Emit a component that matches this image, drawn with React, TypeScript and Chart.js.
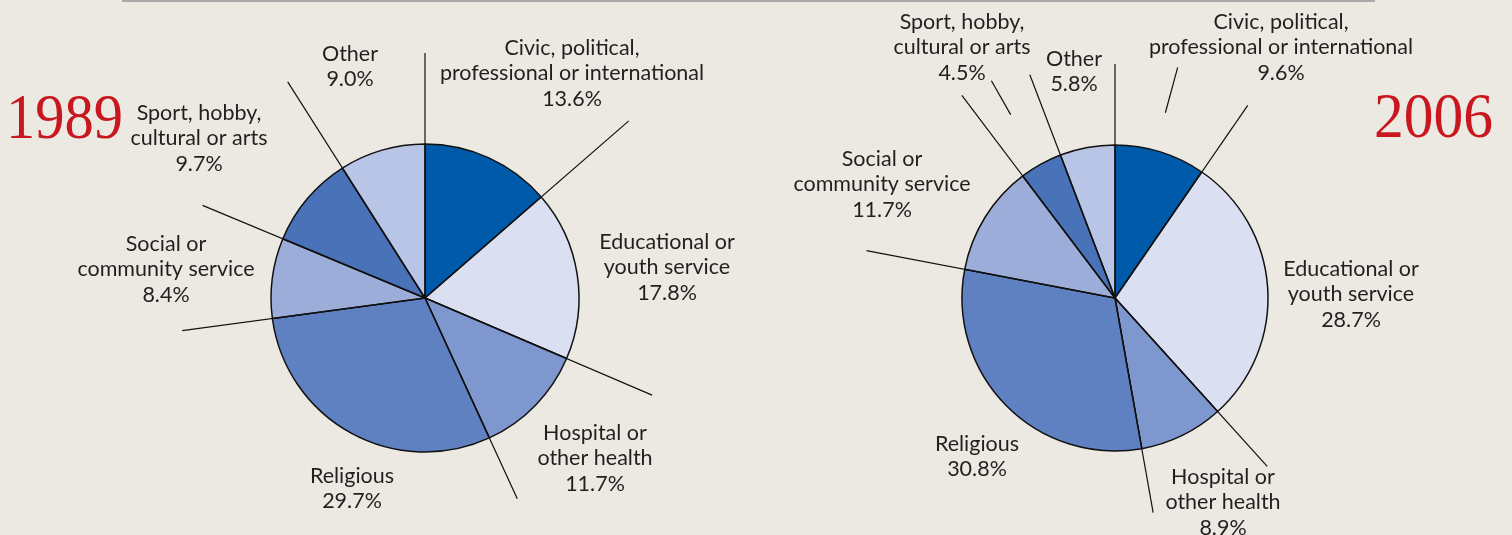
import React, { useEffect, useRef } from "react";
import { Chart, registerables } from "chart.js";

Chart.register(...registerables);

// ---- data ----
const categoryLines: string[][] = [
  ["Civic, political,", "professional or international"],
  ["Educational or", "youth service"],
  ["Hospital or", "other health"],
  ["Religious"],
  ["Social or", "community service"],
  ["Sport, hobby,", "cultural or arts"],
  ["Other"],
];
const values1989 = [13.6, 17.8, 11.7, 29.7, 8.4, 9.7, 9.0];
const values2006 = [9.6, 28.7, 8.9, 30.8, 11.7, 4.5, 5.8];
const years = ["1989", "2006"];

// ---- styles / layout ----
const sliceColors = ["#005aaa", "#dadff2", "#7f97cf", "#5f81c1", "#9cadda", "#4972b8", "#b9c5e6"];
const BG = "#ece9e2";
const TEXT = "#231f20";
const RED = "#c8171f";
const FONT = "Lato, 'Noto Sans', sans-serif";

type PieLayout = {
  padding: { left: number; right: number; top: number; bottom: number };
  radius: number;
  leaderLengths: number[];
  labelPos: { x: number; y: number }[];
  pointers: { arc: number; frac: number; r0: number; r1: number }[];
  year: { x: number; y: number; w: number };
};

const layout1989: PieLayout = {
  padding: { left: 0, right: 662, top: 61, bottom: 0 },
  radius: 154,
  leaderLengths: [245, 270, 247, 221, 245, 241, 256],
  labelPos: [
    { x: 572, y: 48 },
    { x: 667, y: 242 },
    { x: 595, y: 433 },
    { x: 352, y: 476 },
    { x: 166, y: 244 },
    { x: 199, y: 113 },
    { x: 350, y: 54 },
  ],
  pointers: [],
  year: { x: 6, y: 138, w: 117 },
};

const layout2006: PieLayout = {
  padding: { left: 718, right: 0, top: 61, bottom: 0 },
  radius: 153,
  leaderLengths: [234, 234, 227, 218, 253, 254, 239],
  labelPos: [
    { x: 1281, y: 22 },
    { x: 1351, y: 269 },
    { x: 1223, y: 477 },
    { x: 977, y: 444 },
    { x: 882, y: 159 },
    { x: 962, y: 22 },
    { x: 1074, y: 59 },
  ],
  pointers: [
    { arc: 0, frac: 0.44, r0: 192, r1: 239 },
    { arc: 5, frac: 0.46, r0: 211, r1: 250 },
  ],
  year: { x: 1374, y: 137, w: 119 },
};

const LINE_GAP = 25.5;

function makePlugin(values: number[], lay: PieLayout, year: string) {
  return {
    id: "pieDecor" + year,
    afterDatasetsDraw(chart: any) {
      const ctx: CanvasRenderingContext2D = chart.ctx;
      const arcs = chart.getDatasetMeta(0).data;
      ctx.save();
      // leader lines along slice boundaries
      ctx.strokeStyle = "#111";
      ctx.lineWidth = 1.2;
      arcs.forEach((arc: any, i: number) => {
        const a = arc.startAngle;
        const L = lay.leaderLengths[i];
        ctx.beginPath();
        ctx.moveTo(arc.x, arc.y);
        ctx.lineTo(arc.x + L * Math.cos(a), arc.y + L * Math.sin(a));
        ctx.stroke();
      });
      // short pointer ticks
      lay.pointers.forEach((p) => {
        const arc = arcs[p.arc];
        const a = arc.startAngle + (arc.endAngle - arc.startAngle) * p.frac;
        ctx.beginPath();
        ctx.moveTo(arc.x + p.r0 * Math.cos(a), arc.y + p.r0 * Math.sin(a));
        ctx.lineTo(arc.x + p.r1 * Math.cos(a), arc.y + p.r1 * Math.sin(a));
        ctx.stroke();
      });
      // labels
      ctx.fillStyle = TEXT;
      ctx.font = `21.5px ${FONT}`;
      ctx.textAlign = "center";
      ctx.textBaseline = "middle";
      categoryLines.forEach((lines, i) => {
        const pos = lay.labelPos[i];
        const all = [...lines, values[i].toFixed(1) + "%"];
        all.forEach((t, k) => ctx.fillText(t, pos.x, pos.y + k * LINE_GAP));
      });
      // year
      ctx.fillStyle = RED;
      ctx.font = `64px 'Liberation Serif', 'DejaVu Serif', serif`;
      ctx.textAlign = "left";
      ctx.textBaseline = "alphabetic";
      ctx.fillText(year, lay.year.x, lay.year.y, lay.year.w);
      ctx.restore();
    },
  };
}

function PieCanvas({ values, lay, year }: { values: number[]; lay: PieLayout; year: string }) {
  const ref = useRef<HTMLCanvasElement>(null);
  useEffect(() => {
    if (!ref.current) return;
    const chart = new Chart(ref.current, {
      type: "pie",
      data: {
        labels: categoryLines.map((l) => l.join(" ")),
        datasets: [
          {
            data: values,
            backgroundColor: sliceColors,
            borderColor: "#111",
            borderWidth: 1.5,
            radius: lay.radius,
            hoverOffset: 0,
          } as any,
        ],
      },
      options: {
        responsive: false,
        animation: false,
        events: [],
        layout: { padding: lay.padding },
        plugins: { legend: { display: false }, tooltip: { enabled: false } },
      },
      plugins: [makePlugin(values, lay, year)],
    });
    return () => chart.destroy();
  }, []);
  return (
    <canvas
      ref={ref}
      width={1512}
      height={535}
      style={{ position: "absolute", left: 0, top: 0, width: 1512, height: 535 }}
    />
  );
}

export default function App() {
  return (
    <div
      style={{
        position: "fixed",
        left: 0,
        top: 0,
        width: 1512,
        height: 535,
        background: BG,
        overflow: "hidden",
      }}
    >
      <div style={{ position: "absolute", left: 122, top: 0, width: 1253, height: 2, background: "#a9a9a9" }} />
      <PieCanvas values={values1989} lay={layout1989} year={years[0]} />
      <PieCanvas values={values2006} lay={layout2006} year={years[1]} />
    </div>
  );
}
